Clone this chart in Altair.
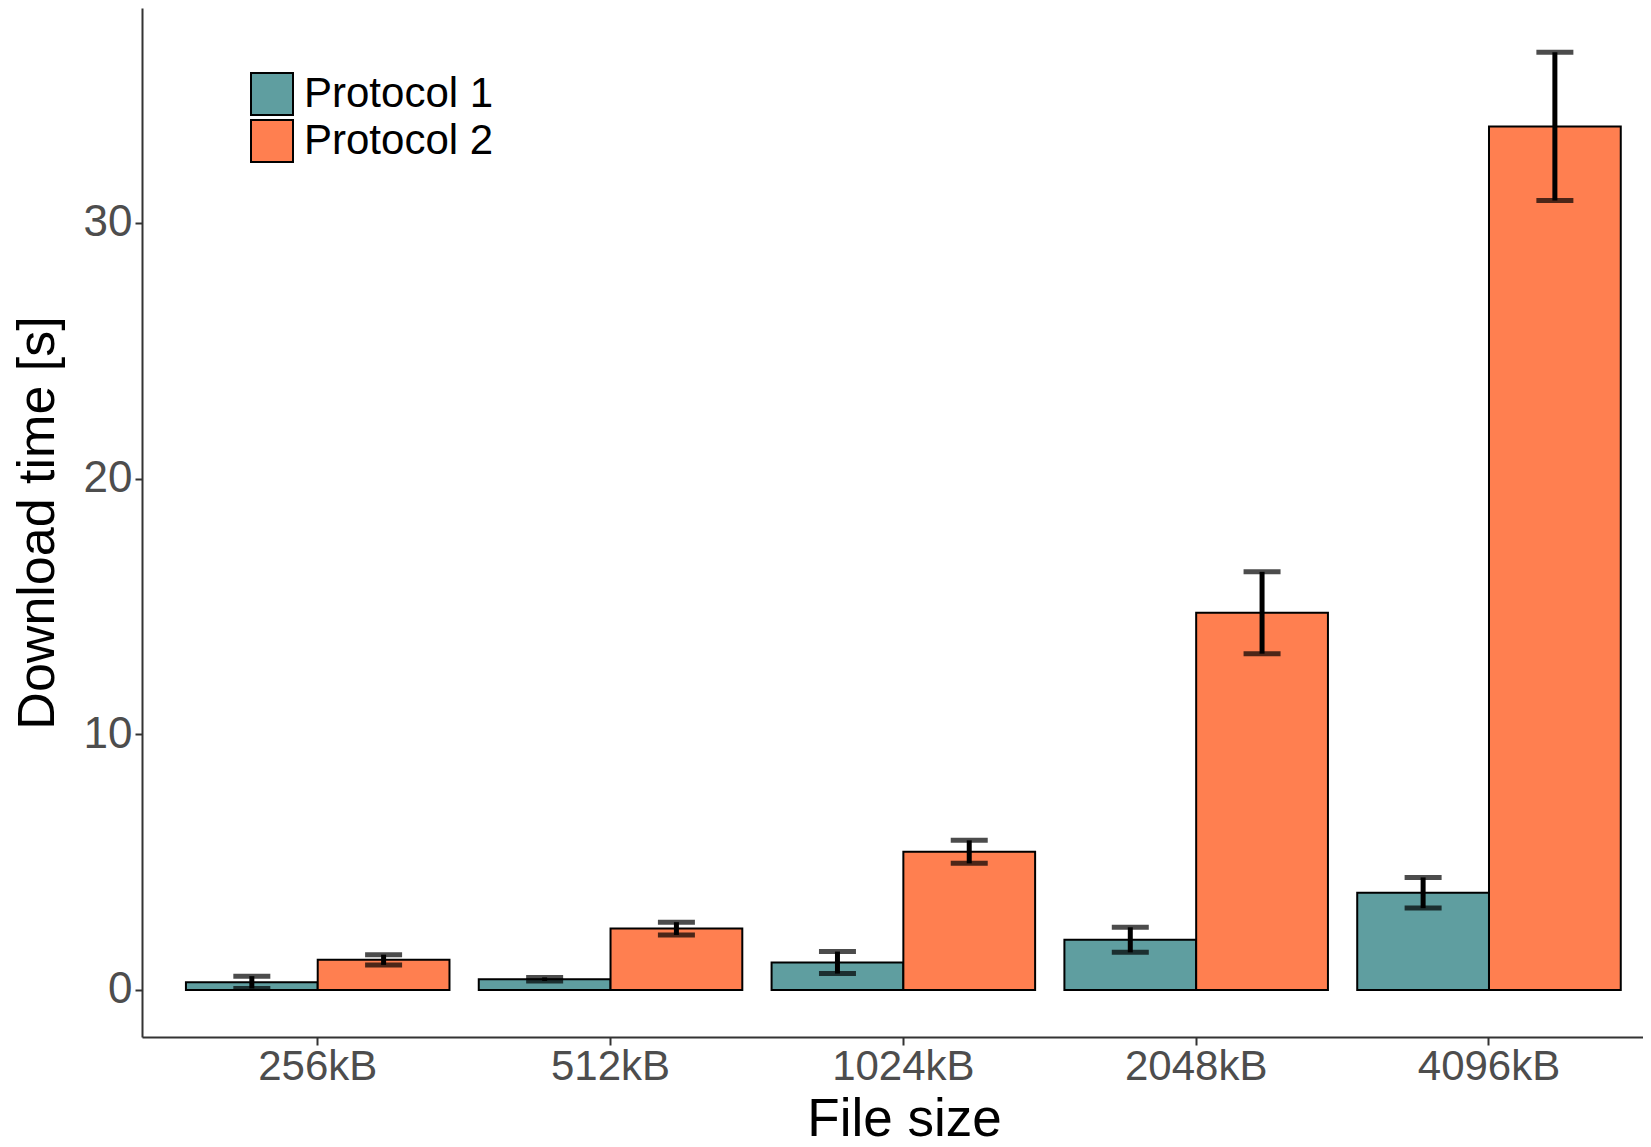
import altair as alt
import pandas as pd

sizes = ["256kB", "512kB", "1024kB", "2048kB", "4096kB"]
protocols = ["Protocol 1", "Protocol 2"]
p1_mean = [0.30, 0.42, 1.07, 1.96, 3.80]
p1_err = [0.24, 0.07, 0.43, 0.49, 0.60]
p2_mean = [1.18, 2.40, 5.40, 14.75, 33.77]
p2_err = [0.20, 0.25, 0.45, 1.60, 2.90]
colors = ["#5F9EA0", "#FF7F50"]

rows = []
for s, m, e in zip(sizes, p1_mean, p1_err):
    rows.append({"size": s, "protocol": protocols[0], "mean": m, "lo": m - e, "hi": m + e})
for s, m, e in zip(sizes, p2_mean, p2_err):
    rows.append({"size": s, "protocol": protocols[1], "mean": m, "lo": m - e, "hi": m + e})
df = pd.DataFrame(rows)

FONT = "Liberation Sans"

x_enc = alt.X(
    "size:N",
    sort=sizes,
    title="File size",
    scale=alt.Scale(paddingInner=0.1, paddingOuter=0.113, align=0.664),
    axis=alt.Axis(
        labelAngle=0,
        labelFontSize=42,
        labelColor="#4D4D4D",
        labelFont=FONT,
        labelPadding=1,
        titleFontSize=53,
        titleFont=FONT,
        titleFontWeight="normal",
        titleColor="black",
        titlePadding=6,
        titleX=762,
        titleAnchor="middle",
        tickSize=8,
        tickWidth=2,
        tickColor="#333333",
        domainColor="#333333",
        domainWidth=2,
        grid=False,
    ),
)
xoff = alt.XOffset("protocol:N", sort=protocols, scale=alt.Scale(paddingInner=0, paddingOuter=0))
y_scale = alt.Scale(domain=[-1.84, 38.4], nice=False, zero=False)
y_axis = alt.Axis(
    values=[0, 10, 20, 30],
    labelFontSize=44,
    labelColor="#4D4D4D",
    labelFont=FONT,
    labelPadding=3,
    titleFontSize=52,
    titleFont=FONT,
    titleFontWeight="normal",
    titleColor="black",
    titlePadding=19,
    tickSize=7,
    tickWidth=2,
    tickColor="#333333",
    domainColor="#333333",
    domainWidth=2,
    grid=False,
)

base = alt.Chart(df)

bars = base.mark_bar(stroke="black", strokeWidth=2).encode(
    x=x_enc,
    xOffset=xoff,
    y=alt.Y("mean:Q", title="Download time [s]", scale=y_scale, axis=y_axis),
    fill=alt.Fill(
        "protocol:N",
        sort=protocols,
        scale=alt.Scale(domain=protocols, range=colors),
        legend=alt.Legend(
            title=None,
            orient="none",
            legendX=108,
            legendY=64,
            symbolType="square",
            symbolSize=1764,
            symbolStrokeColor="black",
            symbolStrokeWidth=2,
            symbolOpacity=1,
            labelFontSize=42,
            labelFont=FONT,
            labelColor="black",
            labelOffset=10,
            labelLimit=400,
            rowPadding=-4,
        ),
    ),
)

rules = base.mark_rule(color="black", strokeWidth=5).encode(
    x=alt.X("size:N", sort=sizes),
    xOffset=xoff,
    y=alt.Y("lo:Q"),
    y2="hi:Q",
)

caps_lo = base.mark_tick(color="black", thickness=5, size=37, orient="horizontal").encode(
    x=alt.X("size:N", sort=sizes),
    xOffset=xoff,
    y=alt.Y("lo:Q"),
)
caps_hi = base.mark_tick(color="black", thickness=5, size=37, orient="horizontal").encode(
    x=alt.X("size:N", sort=sizes),
    xOffset=xoff,
    y=alt.Y("hi:Q"),
)

chart = (
    alt.layer(bars, rules, caps_lo, caps_hi)
    .properties(
        width=1501,
        height=1029,
        background="white",
        autosize=alt.AutoSizeParams(type="none"),
        padding={"left": 134, "top": 0, "right": 0, "bottom": 110},
    )
    .configure_view(strokeWidth=0, stroke="transparent")
)

chart.save("out.html", embed_options={"renderer": "svg", "actions": False})
